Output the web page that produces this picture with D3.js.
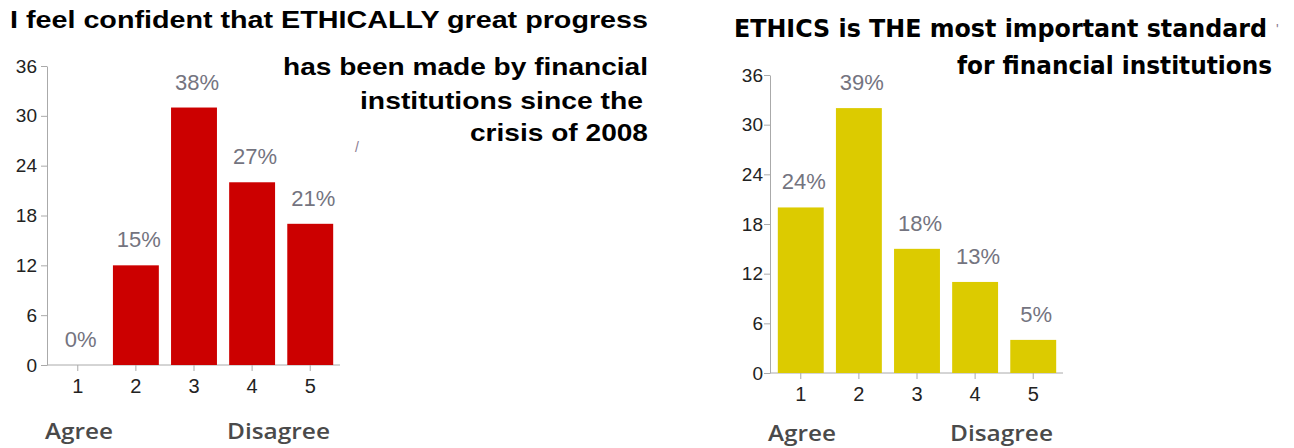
<!DOCTYPE html>
<html>
<head>
<meta charset="utf-8">
<script src="https://cdn.jsdelivr.net/npm/d3@7"></script>
<style>
  body { margin: 0; background: #fff; }
  svg { display: block; }
</style>
</head>
<body>
<div id="chart"></div>
<script>
// survey answers, 1 = agree ... 5 = disagree
const categories = ["1", "2", "3", "4", "5"];
const yTicks = [0, 6, 12, 18, 24, 30, 36];

const progressCounts = [0, 12, 31, 22, 17];
const progressPct = ["0%", "15%", "38%", "27%", "21%"];
const progressTitle = ["I feel confident that ETHICALLY great progress",
  "has been made by financial", "institutions since the", "crisis of 2008"];

const ethicsCounts = [20, 32, 15, 11, 4];
const ethicsPct = ["24%", "39%", "18%", "13%", "5%"];
const ethicsTitle = ["ETHICS is THE most important standard", "for financial institutions"];

const svg = d3.select("#chart")
  .append("svg")
  .attr("width", 1294)
  .attr("height", 448);

function drawChart(opt) {
  var g = svg.append("g");

  var x = d3.scaleBand()
    .domain(categories)
    .range([opt.left + 2, opt.left + 292])
    .paddingInner(0.21)
    .paddingOuter(0.1);

  var y = d3.scaleLinear()
    .domain([0, 36])
    .range([opt.bottom, opt.top]);

  // Y axis
  var ya = g.append("g")
    .attr("transform", "translate(" + opt.left + ",0)")
    .call(d3.axisLeft(y).tickValues(yTicks).tickSize(6).tickSizeOuter(0).tickPadding(opt.yPad));
  ya.attr("font-size", null).attr("font-family", null);
  ya.select(".domain").attr("stroke", "#aaa");
  ya.selectAll(".tick line").attr("stroke", "#aaa");
  ya.selectAll("text")
    .style("font-family", "Liberation Sans, Arial, sans-serif")
    .style("font-size", "19px")
    .attr("fill", "#222");

  // X axis
  var xa = g.append("g")
    .attr("transform", "translate(0," + opt.bottom + ")")
    .call(d3.axisBottom(x).tickSize(6).tickSizeOuter(0).tickPadding(8));
  xa.attr("font-size", null).attr("font-family", null);
  xa.select(".domain").attr("stroke", "#aaa")
    .attr("d", "M" + opt.left + ",0H" + (opt.left + 293));
  xa.selectAll(".tick line").attr("stroke", "#aaa");
  xa.selectAll("text")
    .style("font-family", "Liberation Sans, Arial, sans-serif")
    .style("font-size", "20px")
    .attr("fill", "#222");

  // Bars
  g.selectAll("rect.bar")
    .data(opt.counts)
    .enter()
    .append("rect")
      .attr("class", "bar")
      .attr("x", function(d, i) { return x(categories[i]); })
      .attr("y", function(d) { return y(d); })
      .attr("width", x.bandwidth())
      .attr("height", function(d) { return opt.bottom - y(d); })
      .attr("fill", opt.color);

  // percentage labels
  g.selectAll("text.pct")
    .data(opt.counts)
    .enter()
    .append("text")
      .attr("class", "pct")
      .attr("x", function(d, i) { return x(categories[i]) + x.bandwidth() / 2 + 3; })
      .attr("y", function(d) { return y(d) - 18; })
      .attr("text-anchor", "middle")
      .style("font-family", "Liberation Sans, Arial, sans-serif")
      .style("font-size", "22px")
      .attr("fill", "#74747f")
      .text(function(d, i) { return opt.pct[i]; });

  // scale ends
  g.append("text")
    .attr("x", opt.left - 2).attr("y", opt.endsY)
    .style("font-family", "Open Sans, sans-serif").style("font-weight", 600)
    .style("font-size", "22px").attr("fill", "#4a4a4a")
    .attr("textLength", 68).attr("lengthAdjust", "spacingAndGlyphs")
    .text("Agree");
  g.append("text")
    .attr("x", opt.left + 180).attr("y", opt.endsY)
    .style("font-family", "Open Sans, sans-serif").style("font-weight", 600)
    .style("font-size", "22px").attr("fill", "#4a4a4a")
    .attr("textLength", 103).attr("lengthAdjust", "spacingAndGlyphs")
    .text("Disagree");

  // title lines
  opt.title.forEach(function(t) {
    svg.append("text")
      .attr("x", t.x).attr("y", t.y)
      .attr("text-anchor", t.anchor)
      .style("font-family", opt.titleFont)
      .style("font-weight", "bold")
      .style("font-size", "24px")
      .attr("fill", "#000")
      .attr("textLength", t.w).attr("lengthAdjust", "spacingAndGlyphs")
      .text(t.text);
  });
}

drawChart({
  left: 47, top: 66, bottom: 365, yPad: 4, endsY: 439,
  counts: progressCounts, pct: progressPct, color: "#cc0000",
  titleFont: "Liberation Sans, Arial, sans-serif",
  title: [
    { text: progressTitle[0], x: 10, y: 28, anchor: "start", w: 638 },
    { text: progressTitle[1], x: 648, y: 75, anchor: "end", w: 365 },
    { text: progressTitle[2], x: 643, y: 109, anchor: "end", w: 283 },
    { text: progressTitle[3], x: 648, y: 141, anchor: "end", w: 178 }
  ]
});

drawChart({
  left: 770, top: 75, bottom: 373, yPad: 1, endsY: 441,
  counts: ethicsCounts, pct: ethicsPct, color: "#dccb00",
  titleFont: "DejaVu Sans, Verdana, sans-serif",
  title: [
    { text: ethicsTitle[0], x: 734, y: 37, anchor: "start", w: 533 },
    { text: ethicsTitle[1], x: 1272, y: 74, anchor: "end", w: 315 }
  ]
});

// stray marks from the original slide
svg.append("text").attr("x", 355).attr("y", 152)
  .style("font-family", "Liberation Sans, Arial, sans-serif")
  .style("font-size", "14px").attr("fill", "#8a7a90").text("/");
svg.append("text").attr("x", 1276).attr("y", 34)
  .style("font-family", "Liberation Sans, Arial, sans-serif")
  .style("font-size", "14px").attr("fill", "#8a7a90").text("'");
</script>
</body>
</html>
